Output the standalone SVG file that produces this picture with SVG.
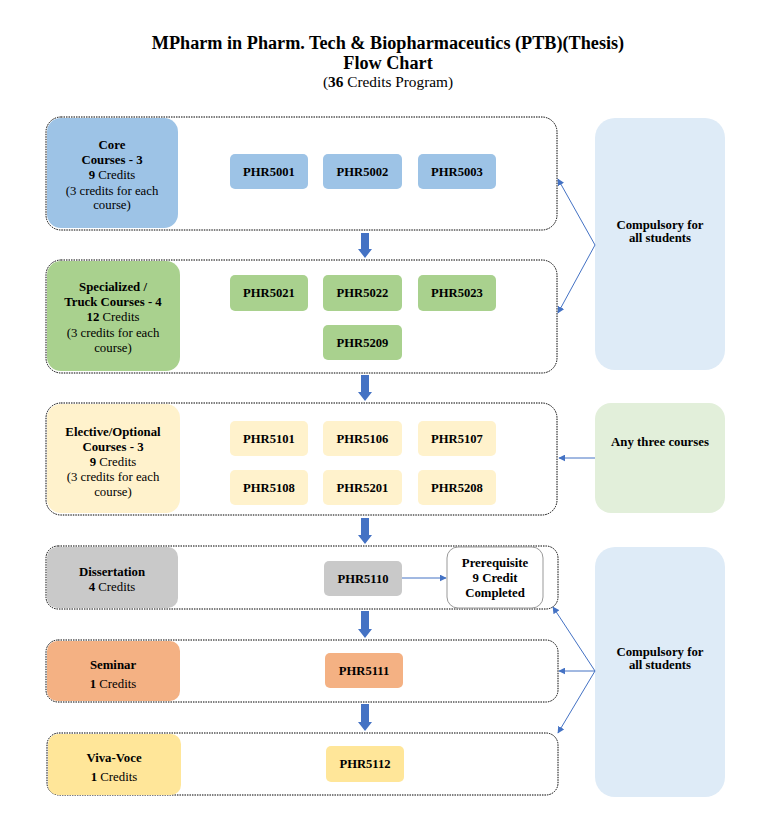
<svg xmlns="http://www.w3.org/2000/svg" width="780" height="831" viewBox="0 0 780 831" font-family="'Liberation Serif', 'Times New Roman', serif">
<defs>
<style>
text{font-family:'Liberation Serif','Times New Roman',serif;fill:#000;text-anchor:middle}
.t{font-size:18.2px;font-weight:bold}
.s{font-size:15.3px}
.l{font-size:12.8px}
.b{font-weight:bold}
.c{font-size:12.6px;font-weight:bold}
.cont{fill:#fff;stroke:#000;stroke-width:1;stroke-dasharray:1.5 1}
.blue{fill:#9DC3E6}.green{fill:#A9D18E}.yel{fill:#FFF2CC}.grey{fill:#C9C9C9}.org{fill:#F4B183}.gold{fill:#FFE699}
.thin{stroke:#4472C4;stroke-width:1;fill:none}
.blk{fill:#4472C4}
</style>
<marker id="ah" viewBox="0 0 10 10" refX="9" refY="5" markerWidth="7" markerHeight="7" orient="auto" markerUnits="userSpaceOnUse"><path d="M0,0L10,5L0,10z" fill="#4472C4"/></marker>
</defs>
<rect width="780" height="831" fill="#fff"/>
<g id="title">
<text class="t" x="388" y="49">MPharm in Pharm. Tech &amp; Biopharmaceutics (PTB)(Thesis)</text>
<text class="t" x="388" y="69">Flow Chart</text>
<text class="s" x="388" y="87">(<tspan class="b">36</tspan> Credits Program)</text>
</g>
<g id="row-core">
<rect class="cont" x="46" y="117" width="511" height="113" rx="15"/>
<rect class="blue" x="47" y="118" width="131" height="110" rx="14"/>
<text class="l b" x="112" y="149">Core</text>
<text class="l b" x="112" y="164">Courses - 3</text>
<text class="l" x="112" y="179"><tspan class="b">9</tspan> Credits</text>
<text class="l" x="112" y="195">(3 credits for each</text>
<text class="l" x="112" y="209">course)</text>
</g>
<g id="PHR5001"><rect class="blue" x="230" y="154" width="78" height="35" rx="5"/><text class="c" x="269" y="176">PHR5001</text></g>
<g id="PHR5002"><rect class="blue" x="323" y="154" width="79" height="35" rx="5"/><text class="c" x="362.5" y="176">PHR5002</text></g>
<g id="PHR5003"><rect class="blue" x="418" y="154" width="78" height="35" rx="5"/><text class="c" x="457" y="176">PHR5003</text></g>

<g id="row-specialized">
<rect class="cont" x="46" y="260" width="511" height="113" rx="15"/>
<rect class="green" x="47" y="261" width="133" height="110" rx="14"/>
<text class="l b" x="113" y="291">Specialized /</text>
<text class="l b" x="113" y="306">Truck Courses - 4</text>
<text class="l" x="113" y="321"><tspan class="b">12</tspan> Credits</text>
<text class="l" x="113" y="337">(3 credits for each</text>
<text class="l" x="113" y="352">course)</text>
</g>
<g id="PHR5021"><rect class="green" x="230" y="275" width="78" height="36" rx="5"/><text class="c" x="269" y="297">PHR5021</text></g>
<g id="PHR5022"><rect class="green" x="323" y="275" width="79" height="36" rx="5"/><text class="c" x="362.5" y="297">PHR5022</text></g>
<g id="PHR5023"><rect class="green" x="418" y="275" width="78" height="36" rx="5"/><text class="c" x="457" y="297">PHR5023</text></g>
<g id="PHR5209"><rect class="green" x="323" y="325" width="79" height="35" rx="5"/><text class="c" x="362.5" y="347">PHR5209</text></g>

<g id="row-elective">
<rect class="cont" x="46" y="403" width="511" height="112" rx="15"/>
<rect class="yel" x="47" y="404" width="133" height="109" rx="14"/>
<text class="l b" x="113" y="436">Elective/Optional</text>
<text class="l b" x="113" y="451">Courses - 3</text>
<text class="l" x="113" y="466"><tspan class="b">9</tspan> Credits</text>
<text class="l" x="113" y="481">(3 credits for each</text>
<text class="l" x="113" y="496">course)</text>
</g>
<g id="PHR5101"><rect class="yel" x="230" y="421" width="78" height="35" rx="5"/><text class="c" x="269" y="443">PHR5101</text></g>
<g id="PHR5106"><rect class="yel" x="323" y="421" width="79" height="35" rx="5"/><text class="c" x="362.5" y="443">PHR5106</text></g>
<g id="PHR5107"><rect class="yel" x="418" y="421" width="78" height="35" rx="5"/><text class="c" x="457" y="443">PHR5107</text></g>
<g id="PHR5108"><rect class="yel" x="230" y="470" width="78" height="35" rx="5"/><text class="c" x="269" y="492">PHR5108</text></g>
<g id="PHR5201"><rect class="yel" x="323" y="470" width="79" height="35" rx="5"/><text class="c" x="362.5" y="492">PHR5201</text></g>
<g id="PHR5208"><rect class="yel" x="418" y="470" width="78" height="35" rx="5"/><text class="c" x="457" y="492">PHR5208</text></g>

<g id="row-dissertation">
<rect class="cont" x="46" y="546" width="512" height="63" rx="12"/>
<rect class="grey" x="47" y="547" width="131" height="61" rx="10"/>
<text class="l b" x="112" y="576">Dissertation</text>
<text class="l" x="112" y="591"><tspan class="b">4</tspan> Credits</text>
</g>
<g id="PHR5110"><rect class="grey" x="324" y="561" width="78" height="35" rx="5"/><text class="c" x="363" y="583">PHR5110</text></g>
<g id="prerequisite">
<rect x="447" y="547" width="96" height="61" rx="11" fill="#fff" stroke="#999" stroke-width="1"/>
<text class="l b" x="495" y="567">Prerequisite</text>
<text class="l b" x="495" y="582">9 Credit</text>
<text class="l b" x="495" y="597">Completed</text>
</g>

<g id="row-seminar">
<rect class="cont" x="46" y="640" width="512" height="62" rx="12"/>
<rect class="org" x="47" y="641" width="133" height="60" rx="10"/>
<text class="l b" x="113" y="669">Seminar</text>
<text class="l" x="113" y="688"><tspan class="b">1</tspan> Credits</text>
</g>
<g id="PHR5111"><rect class="org" x="325" y="653" width="78" height="35" rx="5"/><text class="c" x="364" y="675">PHR5111</text></g>

<g id="row-viva">
<rect class="cont" x="47" y="733" width="511" height="62" rx="12"/>
<rect class="gold" x="48" y="734" width="133" height="61" rx="10"/>
<text class="l b" x="114" y="762">Viva-Voce</text>
<text class="l" x="114" y="781"><tspan class="b">1</tspan> Credits</text>
</g>
<g id="PHR5112"><rect class="gold" x="326" y="746" width="78" height="36" rx="5"/><text class="c" x="365" y="768">PHR5112</text></g>

<g id="compulsory-1">
<rect x="595" y="118" width="130" height="252" rx="20" fill="#DEEBF7"/>
<text class="l b" x="660" y="229">Compulsory for</text>
<text class="l b" x="660" y="242">all students</text>
</g>
<g id="any-three">
<rect x="595" y="403" width="130" height="110" rx="16" fill="#E2EFDA"/>
<text class="l b" x="660" y="446">Any three courses</text>
</g>
<g id="compulsory-2">
<rect x="595" y="547" width="130" height="250" rx="20" fill="#DEEBF7"/>
<text class="l b" x="660" y="656">Compulsory for</text>
<text class="l b" x="660" y="669">all students</text>
</g>

<g id="connectors">
<polygon class="blk" points="361,233 369,233 369,249 372,249 365,258 358,249 361,249"/>
<polygon class="blk" points="361,375 369,375 369,392 372,392 365,401 358,392 361,392"/>
<polygon class="blk" points="361,518 369,518 369,535 372,535 365,544 358,535 361,535"/>
<polygon class="blk" points="361,611 369,611 369,629 372,629 365,638 358,629 361,629"/>
<polygon class="blk" points="361,704 369,704 369,722 372,722 365,731 358,722 361,722"/>
<line class="thin" x1="402" y1="578" x2="446" y2="578" marker-end="url(#ah)"/>
<line class="thin" x1="595" y1="245" x2="558" y2="179" marker-end="url(#ah)"/>
<line class="thin" x1="595" y1="245" x2="558" y2="313" marker-end="url(#ah)"/>
<line class="thin" x1="595" y1="458" x2="559" y2="458" marker-end="url(#ah)"/>
<line class="thin" x1="595" y1="671" x2="553" y2="607" marker-end="url(#ah)"/>
<line class="thin" x1="595" y1="671" x2="559" y2="671" marker-end="url(#ah)"/>
<line class="thin" x1="595" y1="671" x2="558" y2="733" marker-end="url(#ah)"/>
</g>
</svg>
